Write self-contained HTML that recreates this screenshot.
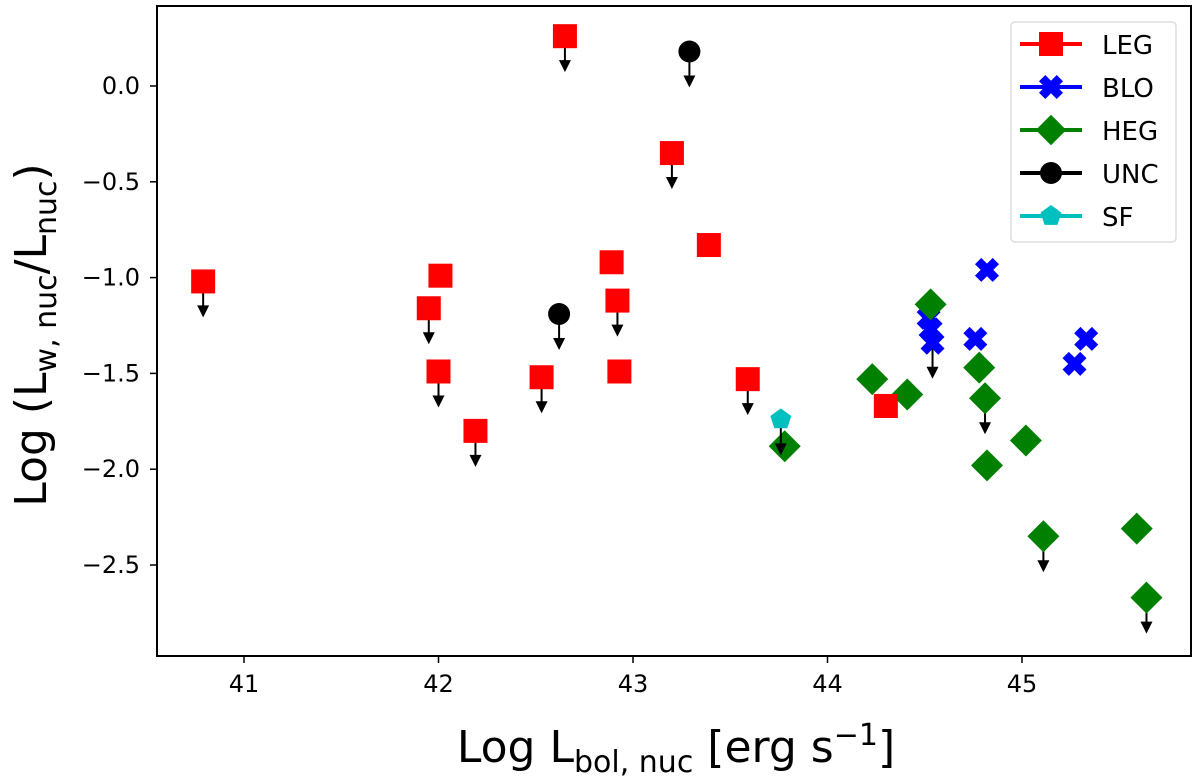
<!DOCTYPE html>
<html><head><meta charset="utf-8"><style>
body{margin:0;background:#fff;}
svg{font-family:"DejaVu Sans","Liberation Sans",sans-serif;}
</style></head><body>
<svg id="chart" width="1200" height="778" viewBox="0 0 1200 778">
<g id="marks"></g>
<rect x="157" y="6" width="1034" height="650" fill="none" stroke="#000" stroke-width="2"/>
<g id="ticks"></g>
<text x="676" y="762" text-anchor="middle" font-size="44">Log L<tspan font-size="30" dy="10">bol, nuc</tspan><tspan dy="-10"> [erg s</tspan><tspan font-size="30" dy="-17">−1</tspan><tspan dy="17">]</tspan></text>
<text transform="translate(46,335) rotate(-90)" text-anchor="middle" font-size="44">Log (L<tspan font-size="30" dy="10">w, nuc</tspan><tspan dy="-10">/L</tspan><tspan font-size="30" dy="10">nuc</tspan><tspan dy="-10">)</tspan></text>
<g id="legend">
<rect x="1011" y="22" width="165" height="220" rx="4" fill="#fff" stroke="#ddd" stroke-width="1.5"/>
</g>
</svg>
<script>
const xTicks=[41,42,43,44,45];
const yTicks=[0.0,-0.5,-1.0,-1.5,-2.0,-2.5];
const yTickLabels=["0.0","−0.5","−1.0","−1.5","−2.0","−2.5"];
const legX=[40.79,42.01,41.95,42.00,42.19,42.53,42.65,42.89,42.92,42.93,43.20,43.39,43.59,44.30];
const legY=[-1.02,-0.99,-1.16,-1.49,-1.80,-1.52,0.26,-0.92,-1.12,-1.49,-0.35,-0.83,-1.53,-1.67];
const legUL=[1,0,1,1,1,1,1,0,1,0,1,0,1,0];
const bloX=[44.82,44.52,44.53,44.54,44.76,45.33,45.27];
const bloY=[-0.96,-1.21,-1.27,-1.34,-1.32,-1.32,-1.45];
const bloUL=[0,0,0,1,0,0,0];
const hegX=[44.23,44.41,44.53,44.78,44.81,44.82,45.02,45.11,45.59,45.64,43.78];
const hegY=[-1.53,-1.61,-1.14,-1.47,-1.63,-1.98,-1.85,-2.35,-2.31,-2.67,-1.88];
const hegUL=[0,0,0,0,1,0,0,1,0,1,0];
const uncX=[43.29,42.62];
const uncY=[0.18,-1.19];
const uncUL=[1,1];
const sfX=[43.76];
const sfY=[-1.74];
const sfUL=[1];

const NS="http://www.w3.org/2000/svg";
const X=v=>244+(v-41)*194.5;
const Y=v=>86-v*191.6;
function mk(tag,attrs,parent){const e=document.createElementNS(NS,tag);for(const k in attrs)e.setAttribute(k,attrs[k]);parent.appendChild(e);return e;}
const marks=document.getElementById('marks'),ticks=document.getElementById('ticks');
xTicks.forEach(t=>{const x=X(t);
 const l=mk('line',{x1:x,x2:x,y1:656,y2:663,stroke:'#000','stroke-width':1.5},ticks);
 
 
 const s=mk('text',{x:x,y:692,'text-anchor':'middle','font-size':24},ticks);s.textContent=t;
 
 });
yTicks.forEach((t,i)=>{const y=Y(t);
 const l=mk('line',{x1:150,x2:157,y1:y,y2:y,stroke:'#000','stroke-width':1.5},ticks);
 
 
 const s=mk('text',{x:140,y:y+8,'text-anchor':'end','font-size':24},ticks);s.textContent=yTickLabels[i];
 
 });
function shape(type,cx,cy,g,scale){scale=scale||1;let e;
 if(type==='sq'){const h=12*scale;e=mk('rect',{x:cx-h,y:cy-h,width:2*h,height:2*h,fill:'#f00'},g);}
 else if(type==='x'){const a=4.5*scale,b=12*scale;const p=[[-b,-b+a*1.4],[-b+a*1.4,-b],[0,-a*1.4],[b-a*1.4,-b],[b,-b+a*1.4],[a*1.4,0],[b,b-a*1.4],[b-a*1.4,b],[0,a*1.4],[-b+a*1.4,b],[-b,b-a*1.4],[-a*1.4,0]];
  e=mk('polygon',{points:p.map(q=>(cx+q[0])+','+(cy+q[1])).join(' '),fill:'#00f'},g);}
 else if(type==='d'){const r=16*scale;e=mk('polygon',{points:`${cx},${cy-r} ${cx+r},${cy} ${cx},${cy+r} ${cx-r},${cy}`,fill:'#008000'},g);}
 else if(type==='c'){e=mk('circle',{cx:cx,cy:cy,r:11*scale,fill:'#000'},g);}
 else {const r=11*scale;let p=[];for(let k=0;k<5;k++){const a=-Math.PI/2+k*2*Math.PI/5;p.push((cx+r*Math.cos(a))+','+(cy+r*Math.sin(a)));}
  e=mk('polygon',{points:p.join(' '),fill:'#00bfbf'},g);}
 return e;}
function arrow(cx,cy,g){
 const l=mk('line',{x1:cx,y1:cy,x2:cx,y2:cy+26,stroke:'#000','stroke-width':2},g);
 
 
 const p=mk('polygon',{points:`${cx-6},${cy+24} ${cx+6},${cy+24} ${cx},${cy+36}`,fill:'#000'},g);
 
 }
function series(xs,ys,ul,type,name){
 const g=mk('g',{},marks);
 
 
 xs.forEach((v,i)=>{if(ul[i])arrow(X(v),Y(ys[i]),g);});
 xs.forEach((v,i)=>{const e=shape(type,X(v),Y(ys[i]),g);
  
  });}
series(bloX,bloY,bloUL,'x','blo');
series(hegX,hegY,hegUL,'d','heg');
series(legX,legY,legUL,'sq','leg');
series(uncX,uncY,uncUL,'c','unc');
series(sfX,sfY,sfUL,'p','sf');
const leg=document.getElementById('legend');
const entries=[['LEG','#f00','sq'],['BLO','#00f','x'],['HEG','#008000','d'],['UNC','#000','c'],['SF','#00bfbf','p']];
entries.forEach((en,i)=>{const y=44+i*43;
 const g=mk('g',{},leg);
 
 
 mk('line',{x1:1020,x2:1082,y1:y,y2:y,stroke:en[1],'stroke-width':4},g);
 shape(en[2],1051,y,g,en[2]==='d'?0.95:1);
 const t=mk('text',{x:1102,y:y+10,'font-size':26},g);t.textContent=en[0];});
</script>
</body></html>
